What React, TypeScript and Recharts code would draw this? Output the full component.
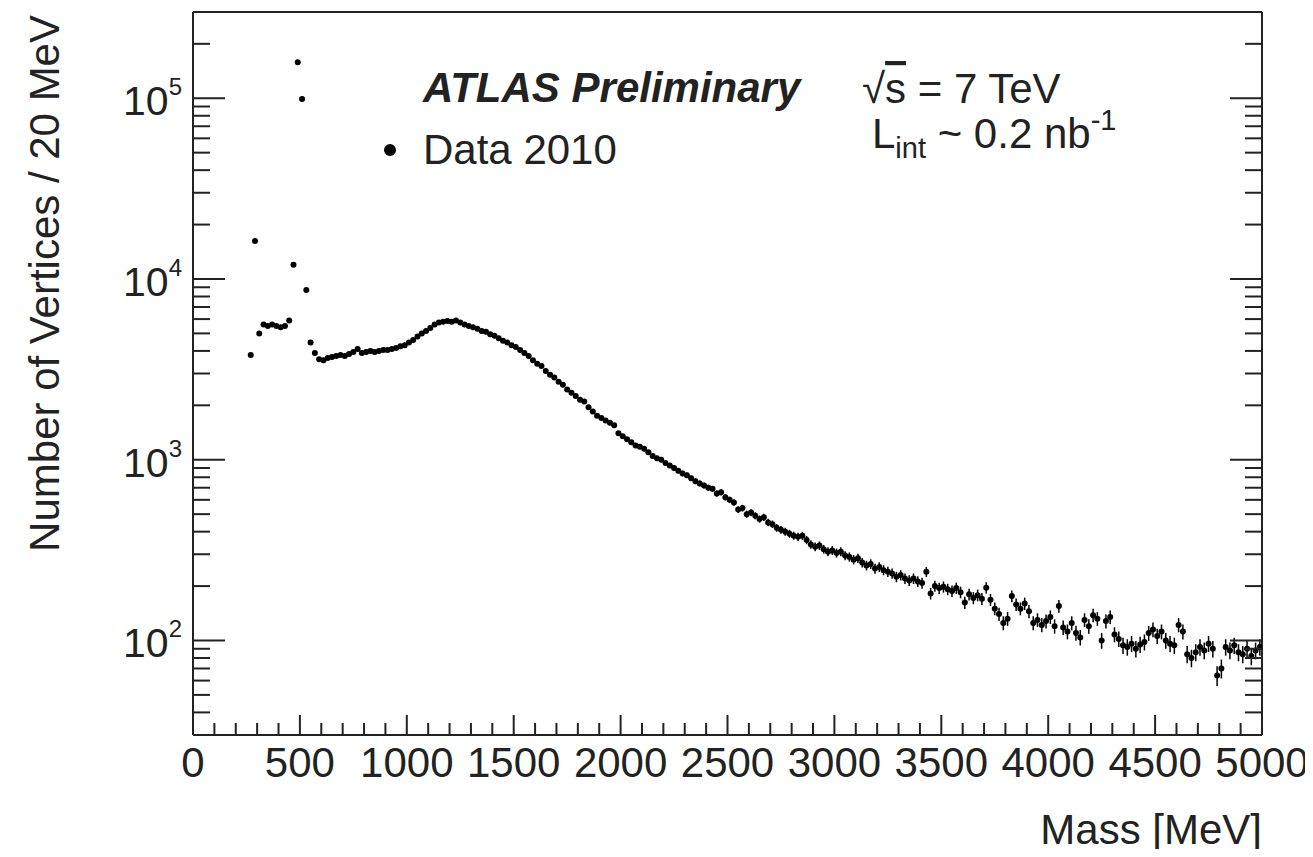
import { ScatterChart, Scatter, XAxis, YAxis, ErrorBar } from 'recharts'

// bin centres start at 270 MeV, 20 MeV wide
const FIRST_BIN = 270
const BIN_WIDTH = 20

// vertices per 20 MeV bin
const counts = [
  3800, 16200, 5000, 5600, 5500, 5600, 5500, 5400, 5500, 5900,
  12000, 158000, 99000, 8700, 4450, 3900, 3600, 3550, 3650, 3700,
  3750, 3800, 3750, 3850, 3950, 4100, 3900, 3950, 4000, 3950,
  4000, 4050, 4050, 4100, 4150, 4250, 4300, 4450, 4600, 4800,
  5000, 5150, 5350, 5600, 5750, 5800, 5850, 5800, 5900, 5750,
  5600, 5500, 5400, 5300, 5150, 5100, 4950, 4850, 4700, 4550,
  4450, 4300, 4200, 4050, 3900, 3750, 3550, 3400, 3300, 3100,
  2950, 2850, 2700, 2600, 2450, 2350, 2250, 2150, 2100, 1950,
  1850, 1750, 1700, 1650, 1600, 1550, 1400, 1350, 1300, 1250,
  1200, 1180, 1150, 1100, 1050, 1020, 1000, 960, 930, 900,
  870, 840, 820, 790, 760, 740, 720, 700, 690, 650,
  660, 620, 600, 580, 530, 540, 500, 510, 490, 470,
  480, 450, 440, 420, 410, 400, 390, 380, 375, 380,
  360, 340, 330, 335, 320, 310, 315, 305, 310, 295,
  290, 280, 285, 270, 260, 265, 250, 255, 245, 240,
  235, 225, 230, 220, 215, 220, 212, 208, 240, 182,
  200, 195, 198, 192, 188, 195, 185, 162, 180, 172,
  178, 170, 196, 168, 150, 140, 125, 132, 176, 158,
  150, 160, 145, 125, 130, 122, 128, 135, 120, 155,
  118, 112, 125, 110, 104, 130, 120, 138, 132, 100,
  128, 135, 108, 102, 94, 92, 96, 90, 95, 98,
  110, 115, 106, 112, 100, 96, 94, 122, 112, 84,
  80, 86, 92, 88, 96, 90, 64, 70, 92, 88,
  94, 86, 84, 90, 82, 88, 92,
]

// every 100 MeV gets a tick, every 500 MeV a label
const massTicks = Array.from({ length: 51 }, (_, i) => i * 100)
const countLabels = [100, 1000, 10000, 100000]
const countTicks = [
  40, 50, 60, 70, 80, 90,
  100, 200, 300, 400, 500, 600, 700, 800, 900,
  1000, 2000, 3000, 4000, 5000, 6000, 7000, 8000, 9000,
  10000, 20000, 30000, 40000, 50000, 60000, 70000, 80000, 90000,
  100000, 200000,
]

const points = counts.map((c, i) => ({
  mass: FIRST_BIN + i * BIN_WIDTH,
  count: c,
  err: Math.sqrt(c),
  xerr: BIN_WIDTH / 2,
}))

const INK = '#222'
const FONT = '"Liberation Sans", Arial, Helvetica, sans-serif'
const MASS_DOMAIN: [number, number] = [0, 5000]
const COUNT_DOMAIN: [number, number] = [30, 300000]
const frame = { stroke: INK, strokeWidth: 2 }

const isMajorMass = (v: number) => v % 500 === 0
const isMajorCount = (v: number) => countLabels.includes(v)

// x ticks: dir = -1 points up (bottom edge), +1 points down (top edge)
function MassTick({ x, y, payload, dir, label }: any) {
  const v = payload.value
  const len = isMajorMass(v) ? 20 : 12
  return (
    <g>
      <line x1={x} x2={x} y1={y} y2={y + dir * len} stroke={INK} strokeWidth={2} />
      {label && isMajorMass(v) && (
        <text x={x} y={y + 42} textAnchor="middle" fontSize={42} fill={INK} fontFamily={FONT}>
          {v}
        </text>
      )}
    </g>
  )
}

// y ticks: dir = +1 points right (left edge), -1 points left (right edge)
function CountTick({ x, y, payload, dir, label }: any) {
  const v = payload.value
  const len = isMajorCount(v) ? 32 : 17
  const exp = Math.round(Math.log10(v))
  return (
    <g>
      <line x1={x} x2={x + dir * len} y1={y} y2={y} stroke={INK} strokeWidth={2} />
      {label && isMajorCount(v) && (
        <text x={x - 11} y={y + 17} textAnchor="end" fontSize={41} fill={INK} fontFamily={FONT}>
          10<tspan dy={-20} fontSize={24}>{exp}</tspan>
        </text>
      )}
    </g>
  )
}

const dot = (p: any) => <circle cx={p.cx} cy={p.cy} r={3} fill="#000" />

export default function App() {
  return (
    <div style={{ position: 'relative', width: 1313, height: 857, margin: -8, background: '#fff', fontFamily: FONT }}>
      <ScatterChart width={1313} height={857} margin={{ top: 12, right: 51, bottom: 0, left: 0 }}>
        <XAxis
          xAxisId="m"
          dataKey="mass"
          type="number"
          domain={MASS_DOMAIN}
          allowDataOverflow
          ticks={massTicks}
          interval={0}
          height={122}
          tickSize={0}
          tickMargin={0}
          tickLine={false}
          axisLine={frame}
          tick={<MassTick dir={-1} label />}
        />
        <XAxis
          xAxisId="top"
          orientation="top"
          mirror
          height={1}
          type="number"
          domain={MASS_DOMAIN}
          allowDataOverflow
          ticks={massTicks}
          interval={0}
          tickSize={0}
          tickMargin={0}
          tickLine={false}
          axisLine={frame}
          tick={<MassTick dir={1} />}
        />
        <YAxis
          yAxisId="c"
          dataKey="count"
          type="number"
          scale="log"
          domain={COUNT_DOMAIN}
          allowDataOverflow
          ticks={countTicks}
          interval={0}
          width={193}
          tickSize={0}
          tickMargin={0}
          tickLine={false}
          axisLine={frame}
          tick={<CountTick dir={1} label />}
        />
        <YAxis
          yAxisId="right"
          orientation="right"
          mirror
          width={1}
          type="number"
          scale="log"
          domain={COUNT_DOMAIN}
          allowDataOverflow
          ticks={countTicks}
          interval={0}
          tickSize={0}
          tickMargin={0}
          tickLine={false}
          axisLine={frame}
          tick={<CountTick dir={-1} />}
        />
        <Scatter xAxisId="m" yAxisId="c" data={points} dataKey="count" shape={dot} isAnimationActive={false}>
          <ErrorBar dataKey="err" direction="y" width={0} stroke="#000" strokeWidth={1.5} isAnimationActive={false} />
          <ErrorBar dataKey="xerr" direction="x" width={0} stroke="#000" strokeWidth={1.5} isAnimationActive={false} />
        </Scatter>
      </ScatterChart>

      <svg width={1313} height={857} style={{ position: 'absolute', left: 0, top: 0, pointerEvents: 'none' }}>
        <g fill={INK} fontFamily={FONT} fontSize={42}>
          <text transform="translate(59,15) rotate(-90)" textAnchor="end">Number of Vertices / 20 MeV</text>
          <text x={1262} y={844} textAnchor="end">Mass [MeV]</text>
          <text x={423} y={102} fontWeight="bold" fontStyle="italic">ATLAS Preliminary</text>
          <circle cx={390} cy={150} r={6} fill="#000" />
          <text x={423} y={164}>Data 2010</text>
          <text x={862} y={103}>
            √<tspan style={{ textDecoration: 'overline' }}>s</tspan> = 7 TeV
          </text>
          <text x={872} y={148}>
            L<tspan dy={10} fontSize={29}>int</tspan>
            <tspan dy={-10}> ~ 0.2 nb</tspan>
            <tspan dy={-18} fontSize={29}>-1</tspan>
          </text>
        </g>
      </svg>
    </div>
  )
}
